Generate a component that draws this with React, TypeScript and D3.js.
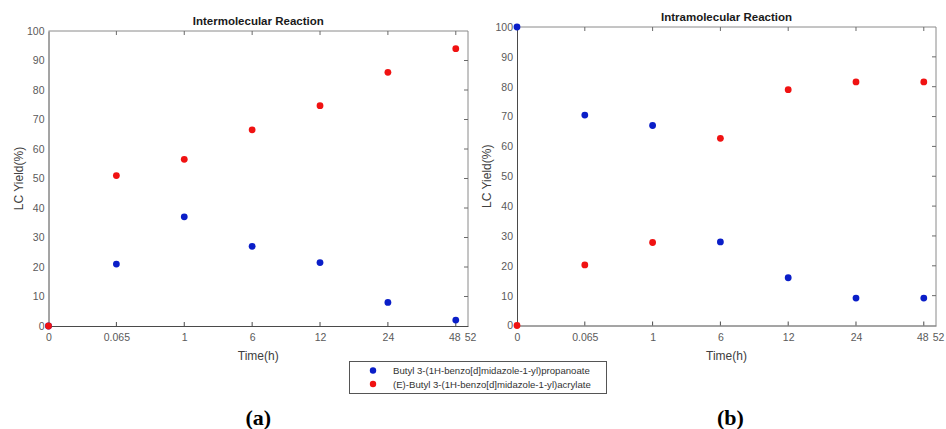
import React, { useRef, useEffect } from 'react';
import * as d3 from 'd3';

// x categories (evenly spaced index positions), last tick "52" sits just past 48
const timeLabels = ['0', '0.065', '1', '6', '12', '24', '48'];
const endLabel = '52';

const yTicks = [0, 10, 20, 30, 40, 50, 60, 70, 80, 90, 100];

// (a) Intermolecular
const interPropanoate = [0, 21, 37, 27, 21.5, 8, 2];
const interAcrylate = [0, 51, 56.5, 66.5, 74.7, 86, 94];

// (b) Intramolecular
const intraPropanoate = [100, 70.5, 67, 28, 16, 9.2, 9.2];
const intraAcrylate = [0, 20.3, 27.8, 62.7, 79, 81.6, 81.6];

const seriesNames = [
  'Butyl 3-(1H-benzo[d]midazole-1-yl)propanoate',
  '(E)-Butyl 3-(1H-benzo[d]midazole-1-yl)acrylate',
];
const colors = ['#0a1ec8', '#f01212'];

const FONT = 'Liberation Sans, Arial, sans-serif';

function drawPanel(g, box, title, blue, red, label) {
  const x = d3.scaleLinear().domain([0, 6.18]).range([box.left, box.right]);
  const y = d3.scaleLinear().domain([0, 100]).range([box.bottom, box.top]);
  const tick = 4;

  // top + right border (lighter)
  g.append('path')
    .attr('d', `M${box.left},${box.top}H${box.right}V${box.bottom}`)
    .attr('fill', 'none').attr('stroke', '#8a8a8a').attr('stroke-width', 1);

  // x axis
  const xAxis = g.append('g').attr('transform', `translate(0,${box.bottom})`)
    .call(d3.axisBottom(x).tickValues(d3.range(timeLabels.length)).tickSize(0).tickPadding(8)
      .tickFormat((d) => timeLabels[d]));
  xAxis.select('.domain').attr('stroke', '#4a4a4a');
  xAxis.selectAll('text').attr('fill', '#5a5a5a').style('font', `10.5px ${FONT}`);
  xAxis.selectAll('.tick').filter((d) => d === timeLabels.length - 1)
    .select('text').attr('dx', '-1.5');
  g.append('text').attr('x', x(6.18) + 2.5).attr('y', box.bottom + 8).attr('dy', '0.71em')
    .attr('text-anchor', 'middle').attr('fill', '#5a5a5a').style('font', `10.5px ${FONT}`)
    .text(endLabel);

  // y axis
  const yAxis = g.append('g').attr('transform', `translate(${box.left},0)`)
    .call(d3.axisLeft(y).tickValues(yTicks).tickSize(0).tickPadding(4));
  yAxis.select('.domain').attr('stroke', '#4a4a4a');
  yAxis.selectAll('text').attr('fill', '#5a5a5a').style('font', `10.5px ${FONT}`);

  // inward ticks on bottom, top, right
  const xt = d3.range(1, timeLabels.length);
  g.append('g').selectAll('line').data(xt).join('line')
    .attr('x1', (d) => x(d)).attr('x2', (d) => x(d))
    .attr('y1', box.bottom).attr('y2', box.bottom - tick)
    .attr('stroke', '#4a4a4a');
  g.append('g').selectAll('line').data(xt).join('line')
    .attr('x1', (d) => x(d)).attr('x2', (d) => x(d))
    .attr('y1', box.top).attr('y2', box.top + tick)
    .attr('stroke', '#6a6a6a');
  g.append('g').selectAll('line').data(yTicks.slice(1, -1)).join('line')
    .attr('x1', box.right).attr('x2', box.right - tick)
    .attr('y1', (d) => y(d)).attr('y2', (d) => y(d))
    .attr('stroke', '#6a6a6a');

  // title
  g.append('text').attr('x', (box.left + box.right) / 2).attr('y', box.top - 6)
    .attr('text-anchor', 'middle').attr('fill', '#1a1a1a')
    .style('font', `bold 11.5px ${FONT}`).text(title);

  // axis labels
  g.append('text').attr('x', (box.left + box.right) / 2).attr('y', box.bottom + 34)
    .attr('text-anchor', 'middle').attr('fill', '#404040')
    .style('font', `12px ${FONT}`).text('Time(h)');
  g.append('text')
    .attr('transform', `translate(${box.left - 26},${(box.top + box.bottom) / 2}) rotate(-90)`)
    .attr('text-anchor', 'middle').attr('fill', '#404040')
    .style('font', `12px ${FONT}`).text('LC Yield(%)');

  // points
  [blue, red].forEach((vals, si) => {
    g.append('g').selectAll('circle').data(vals).join('circle')
      .attr('cx', (d, i) => x(i)).attr('cy', (d) => y(d))
      .attr('r', 3.4).attr('fill', colors[si]);
  });

  // panel letter
  g.append('text').attr('x', (box.left + box.right) / 2 + (label === '(b)' ? 4 : 0)).attr('y', 425)
    .attr('text-anchor', 'middle').attr('fill', '#000')
    .style('font', `bold 22px Liberation Serif, Times New Roman, serif`).text(label);
}

const App = () => {
  const ref = useRef(null);

  useEffect(() => {
    const svg = d3.select(ref.current);
    svg.selectAll('*').remove();
    svg.append('rect').attr('width', 946).attr('height', 429).attr('fill', '#fff');

    drawPanel(svg.append('g'), { left: 48.5, right: 468, top: 31, bottom: 326 },
      'Intermolecular Reaction', interPropanoate, interAcrylate, '(a)');
    drawPanel(svg.append('g'), { left: 517, right: 936, top: 27, bottom: 325.5 },
      'Intramolecular Reaction', intraPropanoate, intraAcrylate, '(b)');

    // legend
    const lg = svg.append('g');
    lg.append('rect').attr('x', 349.5).attr('y', 361.5).attr('width', 257).attr('height', 32)
      .attr('fill', '#fff').attr('stroke', '#555');
    seriesNames.forEach((name, i) => {
      const yy = 370.5 + i * 13.5;
      lg.append('circle').attr('cx', 373).attr('cy', yy).attr('r', 3.2).attr('fill', colors[i]);
      lg.append('text').attr('x', 393).attr('y', yy + 3.5).attr('fill', '#333')
        .style('font', `9.6px ${FONT}`).text(name);
    });
  }, []);

  return (
    <svg ref={ref} width={946} height={429}
      style={{ position: 'absolute', left: 0, top: 0, display: 'block' }} />
  );
};

export default App;
